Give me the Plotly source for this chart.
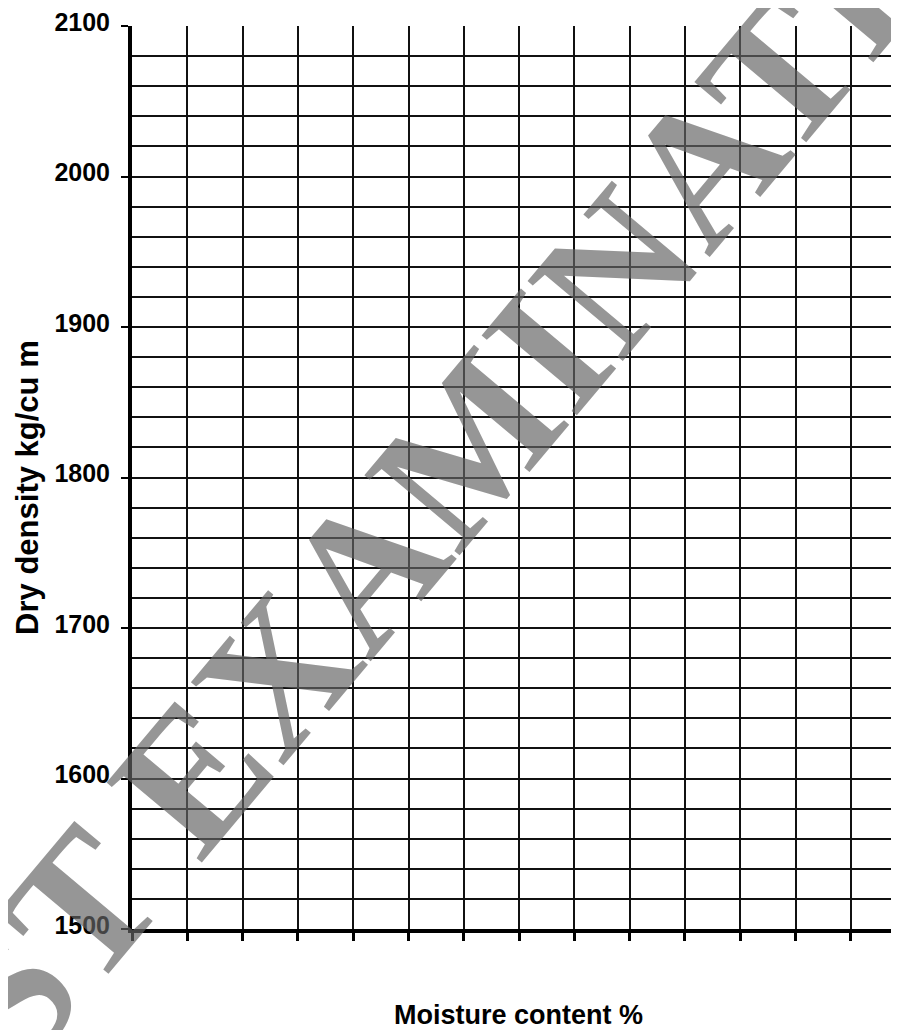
import plotly.graph_objects as go

# --- chart values ---
density_ticks = [1500, 1600, 1700, 1800, 1900, 2000, 2100]
density_minor_step = 20
moisture_ticks = [0, 1, 2, 3, 4, 5, 6, 7, 8, 9, 10, 11, 12, 13]
moisture_range = [0, 13.87]
x_title = "Moisture content %"
y_title = "Dry density kg/cu m"
watermark_text = "PAST EXAMINATION"

OFF = 8  # page body margin
W, H = 899 - OFF, 1030 - OFF
L, R, T, B = 132 - OFF, 0, 16 - OFF, 101
pw, ph = W - L - R, H - T - B

def px(x):
    # page pixel x -> paper coordinate
    return (x - OFF - L) / pw

def py(y):
    # page pixel y -> paper coordinate
    return (H - B - (y - OFF)) / ph

fig = go.Figure()
fig.add_trace(go.Scatter(x=[], y=[], mode="markers", showlegend=False))

sans = "Liberation Sans, Arial, sans-serif"

fig.update_layout(
    width=W, height=H,
    margin=dict(l=L, r=R, t=T, b=B),
    paper_bgcolor="white", plot_bgcolor="white",
    showlegend=False,
    xaxis=dict(
        range=moisture_range,
        tickmode="array", tickvals=moisture_ticks,
        showticklabels=False,
        showgrid=True, gridcolor="#111111", gridwidth=2,
        zeroline=False,
        showline=True, linecolor="black", linewidth=4,
        ticks="outside", ticklen=8, tickwidth=3, tickcolor="black",
        fixedrange=True,
    ),
    yaxis=dict(
        range=[density_ticks[0], density_ticks[-1]],
        tickmode="array", tickvals=density_ticks,
        showgrid=True, gridcolor="#111111", gridwidth=2,
        minor=dict(dtick=density_minor_step, tick0=density_ticks[0], showgrid=True,
                   gridcolor="#111111", gridwidth=2, ticks=""),
        zeroline=False,
        showline=True, linecolor="black", linewidth=4,
        ticks="outside", ticklen=7, tickwidth=2, tickcolor="black",
        ticklabelstandoff=6,
        ticklabelshift=-4,
        ticklabeloverflow="allow",
        tickfont=dict(family=sans, size=25, color="black", weight="bold"),
        fixedrange=True,
    ),
    annotations=[
        dict(text=x_title, xref="paper", yref="paper", x=px(518), y=py(1016),
             xanchor="center", yanchor="middle", showarrow=False,
             font=dict(family=sans, size=27, color="black", weight="bold")),
        dict(text=y_title, xref="paper", yref="paper", x=px(28), y=py(483),
             xanchor="center", yanchor="middle", showarrow=False, textangle=-90,
             font=dict(family=sans, size=31, color="black", weight="bold")),
        dict(text=watermark_text, xref="paper", yref="paper", x=px(435), y=py(480),
             xanchor="center", yanchor="middle", showarrow=False, textangle=-50,
             font=dict(family="Liberation Serif, Times New Roman, serif", size=190,
                       color="rgba(100,100,100,0.68)", weight="bold")),
    ],
)

fig.write_html("out.html")
